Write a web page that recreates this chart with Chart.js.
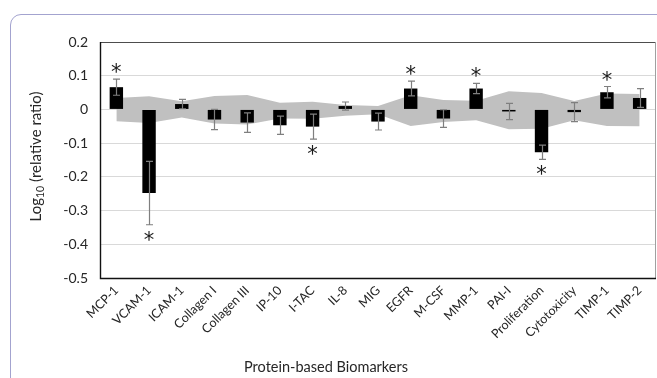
<!DOCTYPE html>
<html><head><meta charset="utf-8">
<script src="https://cdn.jsdelivr.net/npm/chart.js@4/dist/chart.umd.min.js"></script>
<style>
html,body{margin:0;padding:0;background:#fff;overflow:hidden;width:657px;height:378px;}
#card{position:absolute;left:10px;top:14px;width:720px;height:440px;border:1.5px solid #a3a3cf;border-radius:11px;box-sizing:border-box;}
#wrap{position:absolute;left:0;top:0;width:657px;height:378px;}
</style></head><body>
<div id="card"></div>
<div id="wrap"><canvas id="c" width="657" height="378"></canvas></div>
<script>
const categories = ['MCP-1','VCAM-1','ICAM-1','Collagen I','Collagen III','IP-10','I-TAC','IL-8','MIG','EGFR','M-CSF','MMP-1','PAI-I','Proliferation','Cytotoxicity','TIMP-1','TIMP-2'];
const meanValues = [0.066, -0.248, 0.016, -0.030, -0.039, -0.047, -0.051, 0.010, -0.036, 0.062, -0.027, 0.062, -0.006, -0.127, -0.008, 0.051, 0.034];
const errorValues = [0.024, 0.094, 0.014, 0.030, 0.029, 0.027, 0.037, 0.012, 0.025, 0.022, 0.026, 0.015, 0.024, 0.021, 0.028, 0.017, 0.028];
const significant = [1,1,0,0,0,0,1,0,0,1,0,1,0,1,0,1,0];
const bandUpper = [0.034, 0.039, 0.024, 0.040, 0.043, 0.020, 0.023, 0.013, 0.010, 0.042, 0.028, 0.026, 0.054, 0.049, 0.025, 0.047, 0.046];
const bandLower = [-0.035, -0.040, -0.024, -0.042, -0.045, -0.027, -0.028, -0.019, -0.014, -0.049, -0.037, -0.032, -0.059, -0.057, -0.032, -0.049, -0.050];
const yTickValues = [0.2, 0.1, 0, -0.1, -0.2, -0.3, -0.4, -0.5];
const xTitle = 'Protein-based Biomarkers';
const yTitleParts = ['Log', '10', ' (relative ratio)'];

const FONT = 'Lato, "Open Sans", sans-serif';

const framePlugin = {
  id: 'frame',
  afterDatasetsDraw(chart) {
    const {ctx, chartArea: a, scales: {x, y}} = chart;
    ctx.save();
    // error bars
    ctx.strokeStyle = '#7f7f7f';
    ctx.lineWidth = 1.2;
    meanValues.forEach((v, i) => {
      const px = Math.round(x.getPixelForValue(i)) + 0.5;
      const yt = y.getPixelForValue(v + errorValues[i]);
      const yb = y.getPixelForValue(v - errorValues[i]);
      ctx.beginPath();
      ctx.moveTo(px, yt); ctx.lineTo(px, yb);
      ctx.moveTo(px - 3.5, yt); ctx.lineTo(px + 3.5, yt);
      ctx.moveTo(px - 3.5, yb); ctx.lineTo(px + 3.5, yb);
      ctx.stroke();
    });
    // significance asterisks
    ctx.fillStyle = '#1a1a1a';
    ctx.font = '21px "DejaVu Sans"';
    ctx.textAlign = 'center';
    ctx.textBaseline = 'alphabetic';
    const m = ctx.measureText('*');
    const midOff = (m.actualBoundingBoxAscent - m.actualBoundingBoxDescent) / 2;
    meanValues.forEach((v, i) => {
      if (!significant[i]) return;
      const px = x.getPixelForValue(i);
      let cy;
      if (v >= 0) cy = y.getPixelForValue(v + errorValues[i]) - 11;
      else cy = y.getPixelForValue(v - errorValues[i]) + 11;
      ctx.fillText('*', px, cy + midOff);
    });
    // frame
    ctx.lineWidth = 1;
    ctx.strokeStyle = '#4d4d4d';
    ctx.beginPath(); ctx.moveTo(a.left, a.top + 0.5); ctx.lineTo(a.right, a.top + 0.5); ctx.stroke();
    ctx.strokeStyle = '#a0a0a0';
    ctx.beginPath(); ctx.moveTo(a.right - 0.5, a.top); ctx.lineTo(a.right - 0.5, a.bottom); ctx.stroke();
    ctx.strokeStyle = '#111';
    ctx.lineWidth = 1.4;
    ctx.beginPath(); ctx.moveTo(a.left + 0.5, a.top); ctx.lineTo(a.left + 0.5, a.bottom + 0.5); ctx.lineTo(a.right, a.bottom + 0.5); ctx.stroke();
    ctx.restore();
  },
  afterDraw(chart) {
    const {ctx} = chart;
    ctx.save();
    ctx.fillStyle = '#262626';
    // x title
    ctx.font = '14.5px ' + FONT;
    ctx.textAlign = 'center';
    ctx.textBaseline = 'middle';
    ctx.fillText(xTitle, 326, 367);
    // y title with subscript
    ctx.translate(41, 156.5);
    ctx.rotate(-Math.PI / 2);
    ctx.textAlign = 'left';
    ctx.textBaseline = 'alphabetic';
    const big = '15px ' + FONT, small = '10.5px ' + FONT;
    ctx.font = big; const w1 = ctx.measureText(yTitleParts[0]).width;
    ctx.font = small; const w2 = ctx.measureText(yTitleParts[1]).width;
    ctx.font = big; const w3 = ctx.measureText(yTitleParts[2]).width;
    let sx = -(w1 + w2 + w3) / 2;
    ctx.font = big; ctx.fillText(yTitleParts[0], sx, 0); sx += w1;
    ctx.font = small; ctx.fillText(yTitleParts[1], sx, 3); sx += w2;
    ctx.font = big; ctx.fillText(yTitleParts[2], sx, 0);
    ctx.restore();
  }
};

new Chart(document.getElementById('c'), {
  type: 'bar',
  data: {
    labels: categories,
    datasets: [
      { type: 'line', label: 'upper', data: bandUpper, borderWidth: 0, borderColor: 'rgba(0,0,0,0)', pointRadius: 0, fill: '+1', backgroundColor: '#c0c0c0', tension: 0, order: 3 },
      { type: 'line', label: 'lower', data: bandLower, borderWidth: 0, borderColor: 'rgba(0,0,0,0)', pointRadius: 0, fill: false, tension: 0, order: 2 },
      { type: 'bar', label: 'mean', data: meanValues, backgroundColor: '#000', borderWidth: 0, barPercentage: 0.82, categoryPercentage: 0.5, order: 1 }
    ]
  },
  options: {
    responsive: false,
    animation: false,
    devicePixelRatio: 1,
    layout: { padding: { top: 42, right: 1, left: 0, bottom: 0 } },
    plugins: { legend: { display: false }, tooltip: { enabled: false } },
    scales: {
      x: {
        grid: { display: false, drawTicks: false },
        border: { display: false },
        ticks: { autoSkip: false, maxRotation: 45, minRotation: 45, padding: 5, color: '#262626', font: { family: FONT, size: 12.5 } },
        afterFit(s) { s.height = 100; }
      },
      y: {
        min: -0.5, max: 0.2,
        afterBuildTicks(s) { s.ticks = yTickValues.map(v => ({ value: v })); },
        grid: { color: '#d9d9d9', drawTicks: false, lineWidth: 1 },
        border: { display: false },
        ticks: { padding: 12, color: '#262626', font: { family: FONT, size: 14 }, callback: v => String(Number(v.toFixed(1))) },
        afterFit(s) { s.width = 100; }
      }
    }
  },
  plugins: [framePlugin]
});
</script>
</body></html>
